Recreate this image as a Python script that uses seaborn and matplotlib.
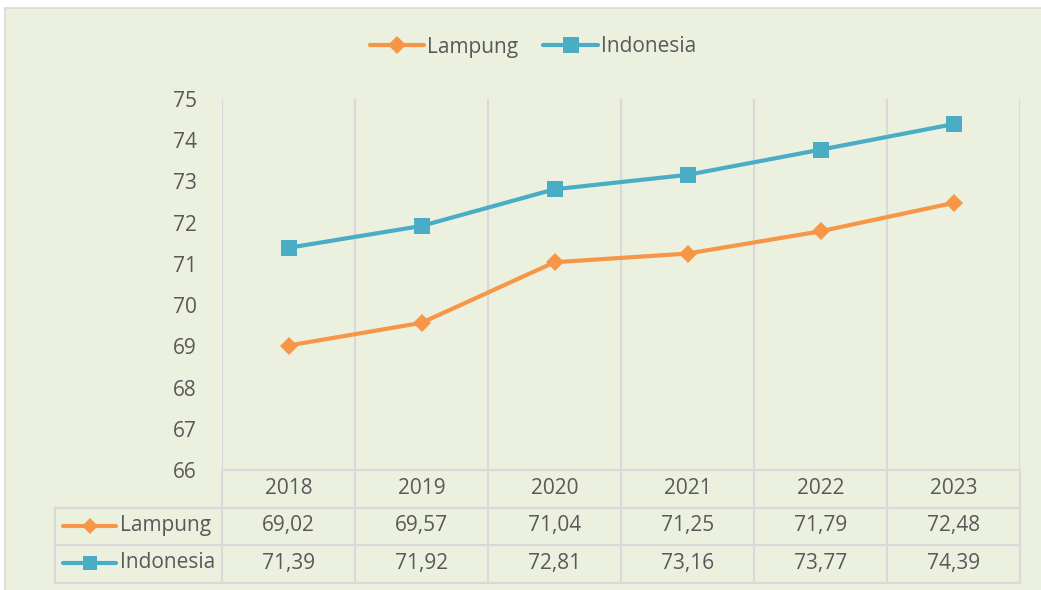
import matplotlib
matplotlib.use("Agg")
import matplotlib.pyplot as plt
import matplotlib.transforms as mtransforms
from matplotlib.lines import Line2D
from matplotlib.patches import Rectangle
import seaborn as sns
import pandas as pd

years = ["2018", "2019", "2020", "2021", "2022", "2023"]
lampung = [69.02, 69.57, 71.04, 71.25, 71.79, 72.48]
indonesia = [71.39, 71.92, 72.81, 73.16, 73.77, 74.39]
series_names = ["Lampung", "Indonesia"]
y_ticks = [66, 67, 68, 69, 70, 71, 72, 73, 74, 75]

colors = {"Lampung": "#F79646", "Indonesia": "#4BACC6"}
markers = {"Lampung": "D", "Indonesia": "s"}
msizes = {"Lampung": 9, "Indonesia": 12}
bg = "#EBF1DE"
grid_c = "#D9D9D9"
text_c = "#595959"
FS = 15

sns.set_style("white")
plt.rcParams["font.family"] = ["Open Sans", "DejaVu Sans"]

W, H = 1041, 590
def fx(px): return px / W
def fy(py): return 1 - py / H

fig = plt.figure(figsize=(W / 100, H / 100), dpi=100)
fig.patch.set_facecolor("white")
frame = Rectangle((fx(5), fy(1000)), 2, fy(8) - fy(1000), transform=fig.transFigure,
                  facecolor=bg, edgecolor=grid_c, linewidth=1.2, zorder=-5)
fig.patches.append(frame)

ax = fig.add_axes([fx(222), fy(470), fx(1020) - fx(222), fy(99) - fy(470)])
ax.set_zorder(2)
ax.patch.set_alpha(0)

df = pd.DataFrame({
    "pos": list(range(len(years))) * 2,
    "value": lampung + indonesia,
    "series": ["Lampung"] * len(years) + ["Indonesia"] * len(years),
})

for name in series_names:
    sub = df[df["series"] == name]
    sns.lineplot(data=sub, x="pos", y="value", ax=ax, color=colors[name],
                 marker=markers[name], markersize=msizes[name], markeredgewidth=0,
                 linewidth=3, label=name, zorder=3)

ax.set_xlim(-0.5, len(years) - 0.5)
ax.set_ylim(min(y_ticks), max(y_ticks))
ax.set_yticks(y_ticks)
ax.set_yticklabels([str(t) for t in y_ticks], fontsize=FS, color=text_c)
ax.tick_params(axis="y", length=0, pad=18)
ax.set_xticks([])
ax.set_xlabel("")
ax.set_ylabel("")
for s in ax.spines.values():
    s.set_visible(False)
for k in range(len(years) + 1):
    ax.axvline(k - 0.5, color=grid_c, linewidth=1.5, zorder=1)

# legend
h, l = ax.get_legend_handles_labels()
ax.legend(h, l, loc="center", bbox_to_anchor=(fx(533), fy(47)), bbox_transform=fig.transFigure,
          ncol=2, frameon=False, fontsize=FS, labelcolor=text_c, handlelength=2.6,
          handletextpad=0.15, columnspacing=1.2)

# data table
bt = mtransforms.blended_transform_factory(ax.transData, fig.transFigure)
def hline(y, x0, x1):
    fig.add_artist(Line2D([fx(x0), fx(x1)], [fy(y), fy(y)], color=grid_c, linewidth=1.5,
                          transform=fig.transFigure))
hline(470, 222, 1020)
for y in (508, 545, 583):
    hline(y, 55, 1020)
fig.add_artist(Line2D([fx(55), fx(55)], [fy(508), fy(583)], color=grid_c, linewidth=1.5,
                      transform=fig.transFigure))
for k in range(len(years) + 1):
    fig.add_artist(Line2D([k - 0.5, k - 0.5], [fy(470), fy(583)], color=grid_c, linewidth=1.5,
                          transform=bt))

for i, yr in enumerate(years):
    fig.text(i, fy(489), yr, transform=bt, ha="center", va="center", fontsize=FS, color=text_c)
    fig.text(i, fy(526), f"{lampung[i]:.2f}".replace(".", ","), transform=bt, ha="center",
             va="center", fontsize=FS, color=text_c)
    fig.text(i, fy(563), f"{indonesia[i]:.2f}".replace(".", ","), transform=bt, ha="center",
             va="center", fontsize=FS, color=text_c)

for name, yc in zip(series_names, (526, 563)):
    fig.add_artist(Line2D([fx(63), fx(116)], [fy(yc), fy(yc)], color=colors[name], linewidth=3,
                          transform=fig.transFigure, solid_capstyle="round"))
    fig.add_artist(Line2D([fx(90)], [fy(yc)], color=colors[name], marker=markers[name],
                          markersize=msizes[name] * 0.85, markeredgewidth=0, linestyle="none",
                          transform=fig.transFigure))
    fig.text(fx(120), fy(yc), name, ha="left", va="center", fontsize=FS, color=text_c)

fig.savefig("out.png", dpi=100, facecolor=fig.get_facecolor())
